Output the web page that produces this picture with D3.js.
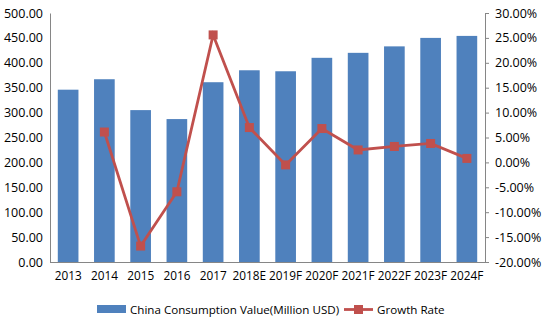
<!DOCTYPE html>
<html>
<head>
<meta charset="utf-8">
<script src="https://cdn.jsdelivr.net/npm/d3@7/dist/d3.min.js"></script>
<style>
  html, body { margin: 0; padding: 0; background: #fff; }
  svg text { font-family: "Open Sans", "Liberation Sans", sans-serif; fill: #000; }
</style>
</head>
<body>
<svg id="chart" width="545" height="327"></svg>
<script>
// Categories and series
const years = ["2013", "2014", "2015", "2016", "2017", "2018E", "2019F", "2020F", "2021F", "2022F", "2023F", "2024F"];
const consumption = [346, 367, 305, 287, 361, 385, 383, 410, 420, 433, 450, 454];
const growth = [null, 6.1, -16.8, -5.9, 25.6, 7.0, -0.5, 6.8, 2.5, 3.2, 3.8, 0.8];
const leftTicks = [0, 50, 100, 150, 200, 250, 300, 350, 400, 450, 500];
const rightTicks = [-20, -15, -10, -5, 0, 5, 10, 15, 20, 25, 30];

const svg = d3.select("#chart");
const m = { left: 50, right: 485, top: 13, bottom: 262 };

const x = d3.scaleBand().domain(years).range([m.left, m.right]).paddingInner(0.43).paddingOuter(0.215);
const yL = d3.scaleLinear().domain([0, 500]).range([m.bottom, m.top]);
const yR = d3.scaleLinear().domain([-20, 30]).range([m.bottom, m.top]);

const blue = "#4F81BD", red = "#C0504D", axisGray = "#868686";

// Bars
svg.append("g").selectAll("rect").data(consumption).join("rect")
  .attr("x", (d, i) => x(years[i]))
  .attr("y", d => yL(d))
  .attr("width", x.bandwidth())
  .attr("height", d => yL(0) - yL(d))
  .attr("fill", blue);

// Left axis
const gL = svg.append("g").attr("transform", `translate(${m.left},0)`)
  .call(d3.axisLeft(yL).tickValues(leftTicks).tickFormat(d3.format(".2f")).tickSize(0).tickPadding(7));
gL.select(".domain").attr("stroke", axisGray);
gL.selectAll("text").style("font-size", "12.5px");

// Right axis
const gR = svg.append("g").attr("transform", `translate(${m.right},0)`)
  .call(d3.axisRight(yR).tickValues(rightTicks).tickFormat(d => d.toFixed(2) + "%").tickSize(4).tickPadding(6));
gR.select(".domain").attr("stroke", axisGray);
gR.selectAll("line").attr("stroke", axisGray);
gR.selectAll("text").style("font-size", "12.5px");

// Bottom axis
const gB = svg.append("g").attr("transform", `translate(0,${m.bottom})`)
  .call(d3.axisBottom(x).tickSize(0).tickPadding(10));
gB.select(".domain").attr("stroke", axisGray).attr("d", `M${m.left},0.5H${m.right}`);
gB.selectAll("text").style("font-size", "11.8px");

// Growth line
const pts = growth.map((g, i) => ({ g, i })).filter(p => p.g !== null);
const line = d3.line().x(p => x(years[p.i]) + x.bandwidth() / 2).y(p => yR(p.g));
svg.append("path").datum(pts).attr("d", line)
  .attr("fill", "none").attr("stroke", red).attr("stroke-width", 2.8);
svg.append("g").selectAll("rect").data(pts).join("rect")
  .attr("x", p => x(years[p.i]) + x.bandwidth() / 2 - 4.5)
  .attr("y", p => yR(p.g) - 4.5)
  .attr("width", 9).attr("height", 9)
  .attr("fill", red);

// Legend
const lg = svg.append("g");
lg.append("rect").attr("x", 97).attr("y", 305).attr("width", 29).attr("height", 8).attr("fill", blue);
lg.append("text").attr("x", 130).attr("y", 314).style("font-size", "11.6px").text("China Consumption Value(Million USD)");
lg.append("line").attr("x1", 344).attr("x2", 373).attr("y1", 309.5).attr("y2", 309.5).attr("stroke", red).attr("stroke-width", 2.8);
lg.append("rect").attr("x", 354).attr("y", 305).attr("width", 9).attr("height", 9).attr("fill", red);
lg.append("text").attr("x", 377).attr("y", 314).style("font-size", "11.6px").text("Growth Rate");
</script>
</body>
</html>
